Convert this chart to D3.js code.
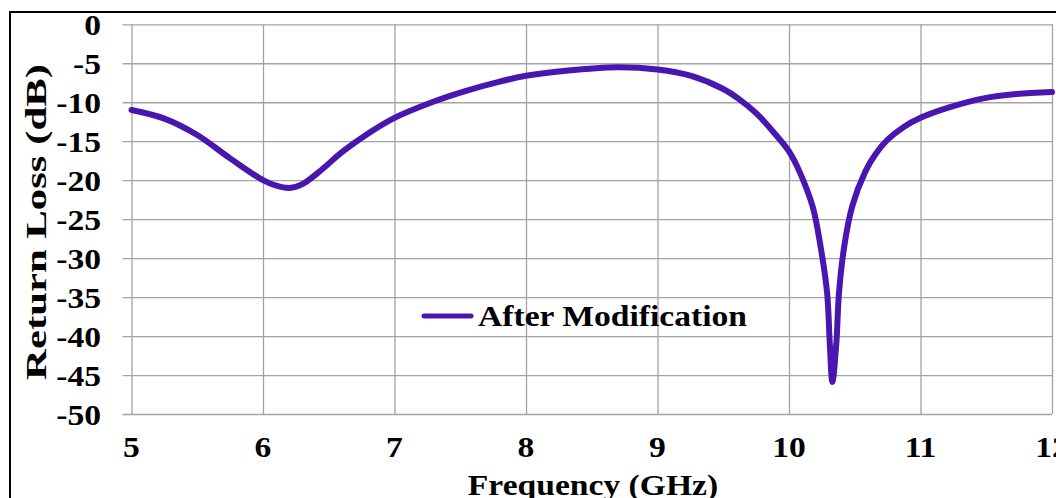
<!DOCTYPE html>
<html>
<head>
<meta charset="utf-8">
<script src="https://cdn.jsdelivr.net/npm/d3@7"></script>
<style>
  html, body { margin: 0; padding: 0; background: #fff; overflow: hidden; }
  svg { display: block; }
  text { font-family: "Liberation Serif", "Times New Roman", serif; font-weight: bold; fill: #000; }
</style>
</head>
<body>
<div id="container"></div>
<script>
// values
var freqGHz = [5.0, 5.25, 5.5, 5.75, 6.0, 6.1, 6.2, 6.3, 6.45, 6.6, 6.8, 7.0, 7.3, 7.55, 7.8, 8.0, 8.3, 8.7, 9.0, 9.25, 9.5, 9.62, 9.75, 9.87, 10.0, 10.08, 10.18, 10.24, 10.29, 10.31, 10.33, 10.36, 10.38, 10.42, 10.48, 10.58, 10.66, 10.75, 10.87, 11.0, 11.23, 11.48, 11.73, 12.0];
var returnLossDb = [-11.0, -12.1, -14.2, -17.2, -20.0, -20.7, -21.0, -20.5, -18.6, -16.4, -14.0, -12.0, -9.9, -8.5, -7.35, -6.6, -5.95, -5.5, -5.8, -6.6, -8.3, -9.6, -11.4, -13.6, -16.3, -18.9, -23.4, -28.5, -34.5, -40.9, -45.9, -40.9, -34.5, -28.5, -23.4, -18.9, -16.6, -14.8, -13.2, -12.0, -10.6, -9.5, -8.95, -8.7];
var xTicks = [5, 6, 7, 8, 9, 10, 11, 12];
var yTicks = [0, -5, -10, -15, -20, -25, -30, -35, -40, -45, -50];
var seriesName = "After Modification";
var xTitle = "Frequency (GHz)";
var yTitle = "Return Loss (dB)";

var width = 1056,
	height = 498,
	lineColour = "#4a16b0",
	gridColour = "#a3a3a3",
	stretch = 1.12;

var xScale = d3.scaleLinear()
	.domain([5, 12])
	.range([131.5, 1052])

var yScale = d3.scaleLinear()
	.domain([-50, 0])
	.range([414, 24.3])

var svg = d3.select("#container")
	.append('svg')
		.attr("width", width)
		.attr("height", height)

// outer frame
svg.append("rect")
	.attr("x", 10)
	.attr("y", 12)
	.attr("width", 1060)
	.attr("height", 520)
	.attr("fill", "none")
	.attr("stroke", "#000")
	.attr("stroke-width", 2)

// horizontal grid, with the little outside ticks on the left
svg.append("g")
	.attr("transform", "translate(" + xScale(12) + ",0)")
	.call(d3.axisLeft(yScale).tickValues(yTicks).tickSize(xScale(12) - xScale(5) + 9).tickFormat(""))
	.call(function(g){
		g.select(".domain").remove();
		g.selectAll("line").attr("stroke", gridColour).attr("stroke-width", 1.3);
	})

// vertical grid
svg.append("g")
	.attr("transform", "translate(0," + yScale(-50) + ")")
	.call(d3.axisTop(xScale).tickValues(xTicks).tickSize(yScale(-50) - yScale(0)).tickFormat(""))
	.call(function(g){
		g.select(".domain").remove();
		g.selectAll("line").attr("stroke", gridColour).attr("stroke-width", 1.3);
	})

// y tick labels
svg.selectAll(".ylab")
	.data(yTicks)
	.enter().append("text")
	.attr("class", "ylab")
	.attr("text-anchor", "end")
	.attr("font-size", 30)
	.attr("transform", function(d){
		return "translate(101," + (yScale(d) + 10.5) + ") scale(" + stretch + ",1)"
	})
	.text(function(d){ return d })

// x tick labels
svg.selectAll(".xlab")
	.data(xTicks)
	.enter().append("text")
	.attr("class", "xlab")
	.attr("text-anchor", "middle")
	.attr("font-size", 30)
	.attr("transform", function(d){
		return "translate(" + xScale(d) + ",457) scale(" + stretch + ",1)"
	})
	.text(function(d){ return d })

// axis titles
svg.append("text")
	.attr("text-anchor", "middle")
	.attr("font-size", 30)
	.attr("transform", "translate(593,495) scale(" + stretch + ",1)")
	.text(xTitle)

var yt = svg.append("text")
	.attr("text-anchor", "middle")
	.attr("font-size", 30)
	.text(yTitle)
var ytScale = 316 / yt.node().getComputedTextLength();
yt.attr("transform", "translate(46,222) rotate(-90) scale(" + ytScale + ",1)")

// the curve
var points = freqGHz.map(function(f, i){ return [f, returnLossDb[i]] });
var line = d3.line()
	.x(function(d){ return xScale(d[0]) })
	.y(function(d){ return yScale(d[1]) })
	.curve(d3.curveCatmullRom.alpha(0.5))

svg.append("path")
	.datum(points)
	.attr("d", line)
	.attr("fill", "none")
	.attr("stroke", lineColour)
	.attr("stroke-width", 6)
	.attr("stroke-linejoin", "round")
	.attr("stroke-linecap", "round")

// legend
svg.append("line")
	.attr("x1", 424).attr("x2", 471)
	.attr("y1", 316).attr("y2", 316)
	.attr("stroke", lineColour)
	.attr("stroke-width", 5)
	.attr("stroke-linecap", "round")

svg.append("text")
	.attr("font-size", 30)
	.attr("transform", "translate(478,326) scale(" + stretch + ",1)")
	.text(seriesName)
</script>
</body>
</html>
